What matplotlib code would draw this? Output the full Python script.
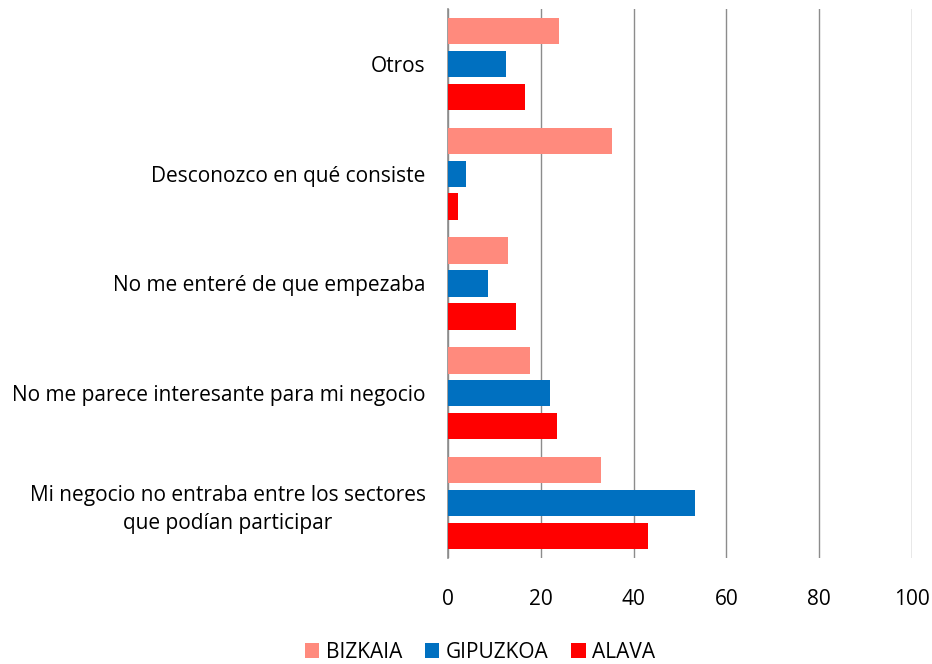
import matplotlib.pyplot as plt
import numpy as np

plt.rcParams['font.family'] = ['Open Sans', 'DejaVu Sans']

categories = ['Mi negocio no entraba entre los sectores\nque podían participar',
              'No me parece interesante para mi negocio',
              'No me enteré de que empezaba',
              'Desconozco en qué consiste',
              'Otros']
bizkaia = [32.9, 17.7, 13.0, 35.3, 23.9]
gipuzkoa = [53.2, 21.9, 8.7, 3.9, 12.5]
alava = [43.1, 23.4, 14.6, 2.1, 16.7]

series = [('BIZKAIA', bizkaia, '#FF8A7D', 0.3),
          ('GIPUZKOA', gipuzkoa, '#0070C0', 0.0),
          ('ALAVA', alava, '#FF0000', -0.3)]

fig = plt.figure(figsize=(9.32, 6.64), dpi=100)
ax = fig.add_axes([448 / 932, 1 - 558 / 664, 464 / 932, 549 / 664])

y = np.arange(len(categories))
for name, vals, color, off in series:
    ax.barh(y + off, vals, height=0.24, color=color, label=name, zorder=3)

ax.set_xlim(0, 100)
ax.set_ylim(-0.5, len(categories) - 0.5)
ax.set_xticks(range(0, 101, 20))
ax.set_yticks(y)
ax.set_yticklabels(categories, multialignment='center', linespacing=1.45)
ax.tick_params(axis='both', length=0, labelsize=15, colors='black')
ax.tick_params(axis='y', pad=16)
ax.tick_params(axis='x', pad=22)
ax.grid(axis='x', color='#8C8C8C', linewidth=1.0, zorder=0)
for s in ['top', 'right', 'bottom']:
    ax.spines[s].set_visible(False)
ax.spines['left'].set_color('#8C8C8C')
ax.spines['left'].set_linewidth(1.2)

handles, labels = ax.get_legend_handles_labels()
fig.legend(handles, labels, loc='center', bbox_to_anchor=(480 / 932, 1 - 652 / 664),
           ncol=3, frameon=False, fontsize=15, handlelength=0.7,
           handleheight=0.7, handletextpad=0.3, columnspacing=1.1)

fig.savefig('out.png', dpi=100)
